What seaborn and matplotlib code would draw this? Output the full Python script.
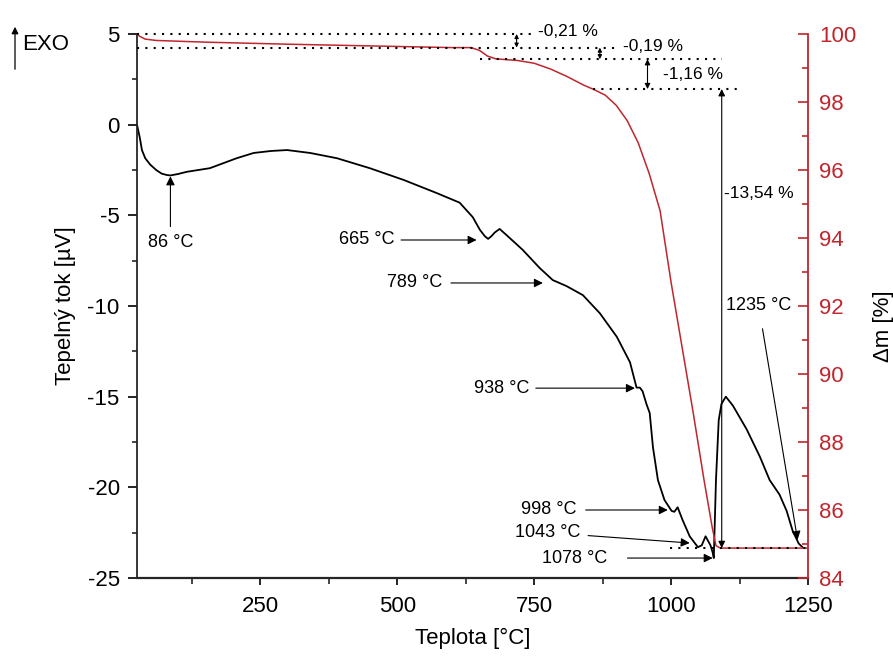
import matplotlib
matplotlib.use("Agg")
import matplotlib.pyplot as plt
import seaborn as sns
from matplotlib.ticker import MultipleLocator

# DTA signal (heat flow) vs. temperature
temp_dta = [25, 30, 34, 40, 49, 60, 70, 80, 86, 100, 116, 158, 207, 238, 270, 299,
            341, 390, 450, 512, 572, 614, 638, 651, 660, 666, 672, 678, 687, 700,
            729, 760, 784, 809, 839, 870, 901, 925, 937, 943, 948, 955, 961, 967,
            976, 988, 1001, 1006, 1012, 1021, 1034, 1049, 1056, 1063, 1072, 1076,
            1078, 1082, 1087, 1092, 1100, 1113, 1138, 1162, 1180, 1198, 1211, 1222,
            1233, 1240]
heat_flow = [0.0, -0.7, -1.4, -1.85, -2.2, -2.5, -2.7, -2.78, -2.8, -2.72, -2.6, -2.4,
             -1.85, -1.56, -1.45, -1.4, -1.56, -1.85, -2.4, -3.05, -3.77, -4.3, -5.1,
             -5.8, -6.15, -6.3, -6.15, -5.95, -5.75, -6.1, -6.9, -7.9, -8.57, -8.9,
             -9.4, -10.4, -11.7, -13.1, -14.5, -14.5, -14.7, -15.4, -15.9, -17.8,
             -19.6, -20.7, -21.3, -21.35, -21.1, -21.8, -22.7, -23.3, -23.2, -22.7,
             -23.2, -23.6, -23.9, -19.6, -16.3, -15.4, -15.0, -15.5, -16.8, -18.3,
             -19.6, -20.4, -21.3, -22.4, -23.1, -23.3]

# TG mass curve
temp_tg = [25, 30, 40, 60, 150, 300, 450, 600, 635, 650, 665, 680, 720, 750, 780,
           810, 840, 860, 880, 900, 920, 940, 960, 980, 1000, 1020, 1040, 1060,
           1075, 1082, 1090, 1150, 1200, 1250]
mass = [100.0, 99.93, 99.85, 99.81, 99.76, 99.7, 99.65, 99.6, 99.6, 99.52, 99.35,
        99.27, 99.22, 99.14, 98.97, 98.75, 98.5, 98.36, 98.2, 97.9, 97.45, 96.8,
        95.9, 94.8, 92.7, 90.8, 88.9, 86.9, 85.5, 84.95, 84.88, 84.88, 84.88, 84.88]

# Thermal effects marked on the DTA curve
peak_labels = ["86 °C", "665 °C", "789 °C", "938 °C", "998 °C", "1043 °C",
               "1078 °C", "1235 °C"]

# Mass-loss steps between TG plateaus
plateau_levels = [100.0, 99.6, 99.26, 98.38, 84.88]
step_labels = ["-0,21 %", "-0,19 %", "-1,16 %", "-13,54 %"]

RED = "#c0262d"
FS = 16

sns.set_theme(style="ticks")
plt.rcParams["font.family"] = ["Liberation Sans", "DejaVu Sans"]
plt.rcParams["axes.unicode_minus"] = False

fig = plt.figure(figsize=(8.93, 6.70), dpi=100)
ax = fig.add_axes([137 / 893, 92 / 670, 671 / 893, 544 / 670])
ax2 = ax.twinx()

sns.lineplot(x=temp_dta, y=heat_flow, ax=ax, color="black", lw=1.3,
             estimator=None, sort=False)
sns.lineplot(x=temp_tg, y=mass, ax=ax2, color=RED, lw=1.1,
             estimator=None, sort=False)

ax.set_xlim(25, 1250)
ax.set_ylim(-25, 5)
ax2.set_ylim(84, 100)

# axes styling
for a in (ax, ax2):
    a.spines["top"].set_visible(False)
ax.spines["right"].set_visible(False)
ax2.spines["left"].set_visible(False)
ax2.spines["bottom"].set_visible(False)
ax.spines["left"].set_linewidth(1.3)
ax.spines["bottom"].set_linewidth(1.6)
ax2.spines["right"].set_color(RED)
ax2.spines["right"].set_linewidth(1.3)

ax.set_xticks([250, 500, 750, 1000, 1250])
ax.xaxis.set_minor_locator(MultipleLocator(125))
ax.yaxis.set_major_locator(MultipleLocator(5))
ax.yaxis.set_minor_locator(MultipleLocator(2.5))
ax2.yaxis.set_major_locator(MultipleLocator(2))
ax2.yaxis.set_minor_locator(MultipleLocator(1))

ax.tick_params(axis="y", which="major", direction="out", length=6.5, width=1.2,
               pad=6, labelsize=FS, colors="black")
ax.tick_params(axis="y", which="minor", direction="out", length=3.5, width=1.2)
ax.tick_params(axis="x", which="major", direction="out", length=5, width=1.2,
               pad=8, labelsize=FS, colors="black")
ax.tick_params(axis="x", which="minor", direction="out", length=4, width=1.2)
ax2.tick_params(axis="y", which="major", direction="in", length=7, width=1.2,
                pad=8, labelsize=FS, colors=RED)
ax2.tick_params(axis="y", which="minor", direction="in", length=4, width=1.2,
                colors=RED)

ax.set_xlabel("Teplota [°C]", fontsize=FS, labelpad=8, color="black")
ax.set_ylabel("Tepelný tok [µV]", fontsize=FS, labelpad=8, color="black")
ax2.set_ylabel("Δm [%]", fontsize=FS, labelpad=12, color="black")
ax2.yaxis.label.set_y(0.463)

# dotted guide lines at the TG plateaus
guide_spans = [(25, 748), (25, 901), (651, 1093), (857, 1125), (998, 1250)]
for lvl, (x0, x1) in zip(plateau_levels, guide_spans):
    ax2.plot([x0, x1], [lvl, lvl], color="black", lw=1.5, ls=(0, (1, 3)),
             clip_on=False, zorder=3)

# double arrows for each mass-loss step
arrow_x = [718, 870, 957, 1092.5]
text_pos = [(757, 100.07), (912, 99.63), (985, 98.8), (1096, 95.32)]
head_sizes = [6, 6, 8, 10]
for i, lab in enumerate(step_labels):
    hi, lo = plateau_levels[i], plateau_levels[i + 1]
    ax2.annotate("", xy=(arrow_x[i], lo), xytext=(arrow_x[i], hi),
                 arrowprops=dict(arrowstyle="<|-|>", color="black", lw=0.8,
                                 shrinkA=0, shrinkB=0,
                                 mutation_scale=head_sizes[i]),
                 annotation_clip=False)
    ax2.text(text_pos[i][0], text_pos[i][1], lab, fontsize=12.5, ha="left",
             va="center", color="black")

# arrows pointing to the DTA effects
peak_xy = [(86, -2.85), (645, -6.36), (766, -8.73), (934, -14.53),
           (994, -21.25), (1034, -23.07), (1076, -23.9), (1231, -22.9)]
peak_text = [(86, -6.5), (496, -6.36), (582, -8.73), (742, -14.53),
             (828, -21.25), (835, -22.5), (884, -23.9), (1160, -10.0)]
peak_ha = ["center", "right", "right", "right", "right", "right", "right", "center"]
peak_shrink = [3, 2, 4, 2, 4, 3, 12, 8]
for lab, xy, xt, ha, sh in zip(peak_labels, peak_xy, peak_text, peak_ha, peak_shrink):
    ax.annotate(lab, xy=xy, xytext=xt, ha=ha, va="center", fontsize=13,
                color="black",
                arrowprops=dict(arrowstyle="-|>", color="black", lw=0.8,
                                shrinkA=sh, shrinkB=0, mutation_scale=13),
                annotation_clip=False)

# EXO direction marker
fig.patches.append(matplotlib.patches.FancyArrowPatch(
    (15 / 893, 1 - 72 / 670), (15 / 893, 1 - 24 / 670),
    transform=fig.transFigure, arrowstyle="-|>", mutation_scale=10,
    color="black", lw=0.9))
fig.text(22 / 893, 1 - 45 / 670, "EXO", fontsize=FS, ha="left", va="center",
         color="black")

fig.savefig("out.png", dpi=100, facecolor="white")
